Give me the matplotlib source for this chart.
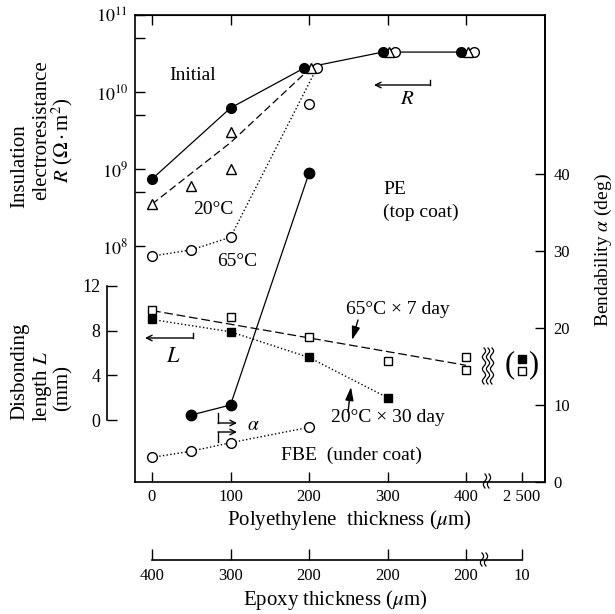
import numpy as np
import matplotlib
matplotlib.use("Agg")
import matplotlib.pyplot as plt
from matplotlib.lines import Line2D
from matplotlib.ticker import FixedLocator, NullFormatter
from matplotlib.transforms import IdentityTransform

plt.rcParams["font.family"] = ["Liberation Serif", "DejaVu Serif"]
plt.rcParams["mathtext.fontset"] = "stix"

# polyethylene thickness (um); 2500 sits past the axis break
pe_ticks = [0, 100, 200, 300, 400, 2500]
pe_labels = ["0", "100", "200", "300", "400", "2 500"]
epoxy_labels = ["400", "300", "200", "200", "200", "10"]

# insulation resistance R (ohm m2)
init_x = [0, 100]
init_R = [7.4e8, 6.2e9]
t20_x = [0, 50, 100, 100]
t20_R = [3.5e8, 6.0e8, 3.0e9, 1.0e9]
t20_line_x = [0, 100, 200]
t20_line_R = [3.5e8, 2.2e9, 2.05e10]
t65_x = [0, 50, 100, 200]
t65_R = [7.4e7, 8.9e7, 1.3e8, 7.0e9]
# the three R series coincide from 200 um on
common_x = [200, 300, 400]
common_R = [2.05e10, 3.3e10, 3.3e10]

# bendability alpha (deg)
pe_alpha_x = [50, 100, 200]
pe_alpha = [8.7, 10.0, 40.1]
fbe_alpha_x = [0, 50, 100, 200]
fbe_alpha = [3.2, 4.0, 5.1, 7.1]

# disbonding length L (mm)
l65_x = [0, 100, 200, 300, 400, 400]
l65 = [9.85, 9.2, 7.4, 5.3, 5.6, 4.5]
l65_fit_x = [0, 400]
l65_fit = [9.8, 4.9]
l20_x = [0, 100, 200, 300]
l20 = [9.0, 7.9, 5.6, 2.0]
l20_2500 = 5.5
l65_2500 = 4.4

W, H = 615, 614
BREAK_POS = 471          # axis position used for 2500 um
SHIFT = {"init": -6, "t20": 2, "t65": 10}   # side-by-side markers in the shared cluster


def xpos(v):
    return v if v <= 400 else BREAK_POS


def fx(x):
    return x / W


def fy(y):
    return 1 - y / H


fig = plt.figure(figsize=(W / 100, H / 100), dpi=100)
left, right, top, bottom = 135, 545, 15, 482
pos = [left / W, 1 - bottom / H, (right - left) / W, (bottom - top) / H]
px_um = (466 - 152) / 400
xlim = ((left - 152) / px_um, (right - 152) / px_um)

ax = fig.add_axes(pos)
ax.set_xlim(*xlim)
ax.set_yscale("log")
ax.set_ylim(10 ** (8 - (bottom - 246) / 77), 1e11)
for s in ax.spines.values():
    s.set_linewidth(1.2)
ax.yaxis.set_major_locator(FixedLocator([1e8, 1e9, 1e10, 1e11]))
ax.yaxis.set_minor_locator(FixedLocator([5e8, 5e9, 5e10]))
ax.yaxis.set_minor_formatter(NullFormatter())
ax.set_yticklabels([r"$10^{8}$", r"$10^{9}$", r"$10^{10}$", r"$10^{11}$"])
ax.tick_params(axis="y", which="both", direction="in", length=7, width=1, labelsize=13, pad=5)
ax.set_xticks([xpos(v) for v in pe_ticks])
ax.set_xticklabels(pe_labels)
ax.tick_params(axis="x", direction="in", length=7, width=1, labelsize=12, pad=5)
top_ax = ax.secondary_xaxis("top")
top_ax.set_xticks(pe_ticks[:5])
top_ax.tick_params(direction="in", length=7, width=1, labeltop=False)

# R curves
ms = dict(markersize=7, markeredgewidth=1, color="black")
ax.plot(init_x + [v + SHIFT["init"] for v in common_x], init_R + common_R, "-", lw=0.9, color="black")
ax.plot(t20_line_x[:-1] + [t20_line_x[-1] + SHIFT["t20"]], t20_line_R, "--", lw=0.9, color="black",
        dashes=(6, 3))
ax.plot(t65_x[:3] + [common_x[0] + SHIFT["t65"]], t65_R[:3] + [common_R[0]], ":", lw=1.0, color="black")
ax.plot(t65_x, t65_R, "o", mfc="white", **ms)
ax.plot([v + SHIFT["t65"] for v in common_x], common_R, "o", mfc="white", **ms)
ax.plot(t20_x, t20_R, "^", mfc="white", **ms)
ax.plot([v + SHIFT["t20"] for v in common_x], common_R, "^", mfc="white", **ms)
ax.plot(init_x, init_R, "o", mfc="black", **ms)
ax.plot([v + SHIFT["init"] for v in common_x], common_R, "o", mfc="black", **ms)

# bendability axis on the right
axA = ax.twinx()
axA.set_ylim(0, (bottom - top) / 7.7)
axA.set_yticks([0, 10, 20, 30, 40])
axA.tick_params(axis="y", direction="in", length=7, width=1, labelsize=12, pad=6)
for k in ["left", "top", "bottom"]:
    axA.spines[k].set_visible(False)
axA.spines["right"].set_linewidth(1.2)
axA.plot(pe_alpha_x, pe_alpha, "o-", lw=0.9, color="black", markersize=7.5, mfc="black")
axA.plot(fbe_alpha_x, fbe_alpha, "o", ls=":", lw=1.0, color="black", markersize=7, mfc="white")

# disbonding length axis, offset bracket on the left
axL = fig.add_axes(pos)
axL.set_xlim(*xlim)
axL.patch.set_visible(False)
axL.set_ylim(-(bottom - 420) / 11.17, 12 + (286 - top) / 11.17)
for k in ["right", "top", "bottom"]:
    axL.spines[k].set_visible(False)
axL.spines["left"].set_position(("outward", 20))
axL.spines["left"].set_bounds(0, 12)
axL.spines["left"].set_linewidth(1.2)
axL.set_yticks([0, 4, 8, 12])
axL.tick_params(axis="y", direction="in", length=7, width=1, labelsize=13, pad=5)
axL.xaxis.set_visible(False)
axL.plot(l65_fit_x, l65_fit, ls=(0, (7, 3)), lw=0.9, color="black")
axL.plot(l20_x, l20, ":", lw=1.0, color="black")
axL.plot(l65_x, l65, "s", mfc="white", mec="black", mew=1, markersize=5.5, ls="none")
axL.plot(l20_x, l20, "s", mfc="black", mec="black", markersize=5.5, ls="none")
axL.plot([xpos(2500)], [l20_2500], "s", mfc="black", mec="black", markersize=5.5)
axL.plot([xpos(2500)], [l65_2500], "s", mfc="white", mec="black", mew=1, markersize=5.5)

# epoxy thickness axis below
axE = fig.add_axes([left / W, fy(560), (right - left) / W, 0.0005])
axE.set_xlim(*xlim)
axE.patch.set_visible(False)
for k in ["left", "right", "top"]:
    axE.spines[k].set_visible(False)
axE.spines["bottom"].set_bounds(0, BREAK_POS)
axE.spines["bottom"].set_linewidth(1.2)
axE.yaxis.set_visible(False)
axE.tick_params(axis="x", direction="in", length=8, width=1, labelsize=12, pad=6)
axE.set_xticks([xpos(v) for v in pe_ticks])
axE.set_xticklabels(epoxy_labels)

# axis titles
fig.text(fx(349), fy(520), r"Polyethylene  thickness ($\mu$m)", ha="center", va="center", fontsize=15)
fig.text(fx(335), fy(600), r"Epoxy thickness ($\mu$m)", ha="center", va="center", fontsize=15)
fig.text(fx(20), fy(166), "Insulation", rotation=90, ha="center", va="center", fontsize=15)
fig.text(fx(42), fy(130), "electroresistance", rotation=90, ha="center", va="center", fontsize=15)
fig.text(fx(62), fy(140), r"$R$ ($\Omega\cdot$m$^2$)", rotation=90, ha="center", va="center", fontsize=15)
fig.text(fx(20), fy(371), "Disbonding", rotation=90, ha="center", va="center", fontsize=15)
fig.text(fx(42), fy(386), r"length $L$", rotation=90, ha="center", va="center", fontsize=15)
fig.text(fx(63), fy(388), "(mm)", rotation=90, ha="center", va="center", fontsize=15)
fig.text(fx(603), fy(250), r"Bendability $\alpha$ (deg)", rotation=90, ha="center", va="center", fontsize=14)

# in-plot labels
fig.text(fx(193), fy(75), "Initial", ha="center", va="center", fontsize=14)
fig.text(fx(213), fy(210), "20°C", ha="center", va="center", fontsize=14)
fig.text(fx(237), fy(262), "65°C", ha="center", va="center", fontsize=14)
fig.text(fx(383), fy(190), "PE", ha="left", va="center", fontsize=14)
fig.text(fx(383), fy(212), "(top coat)", ha="left", va="center", fontsize=14)
fig.text(fx(398), fy(310), "65°C × 7 day", ha="center", va="center", fontsize=14)
fig.text(fx(388), fy(417), "20°C × 30 day", ha="center", va="center", fontsize=14)
fig.text(fx(351), fy(455), "FBE  (under coat)", ha="center", va="center", fontsize=14)
fig.text(fx(407), fy(100), r"$R$", ha="center", va="center", fontsize=15)
fig.text(fx(173), fy(358), r"$L$", ha="center", va="center", fontsize=16)
fig.text(fx(253), fy(425), r"$\alpha$", ha="center", va="center", fontsize=14)
fig.text(fx(510), fy(365), "(", ha="center", va="center", fontsize=22)
fig.text(fx(533), fy(365), ")", ha="center", va="center", fontsize=22)

ident = IdentityTransform()


def seg(xs, ys, lw=1.0):
    fig.add_artist(Line2D(xs, [H - y for y in ys], transform=ident, color="black", lw=lw))


def arrow(x0, y0, x1, y1, style="->", scale=10):
    ax.annotate("", xy=(x1, H - y1), xycoords="figure pixels", xytext=(x0, H - y0),
                textcoords="figure pixels",
                arrowprops=dict(arrowstyle=style, color="black", lw=1.0, mutation_scale=scale,
                                shrinkA=0, shrinkB=0))


# R and L pointers
seg([430, 430], [80, 85])
arrow(430, 85, 374, 85)
seg([193, 193], [333, 338])
arrow(193, 338, 145, 338)
# alpha pointers
seg([218, 218], [413, 423])
arrow(218, 423, 237, 423)
seg([218, 218], [442, 432])
arrow(218, 432, 237, 432)
# condition pointers
arrow(358, 320, 352, 340, style="-|>,head_width=0.25,head_length=0.8", scale=10)
arrow(348, 412, 351, 387, style="-|>,head_width=0.25,head_length=0.8", scale=10)


def wiggle(x, y0, y1, amp=1.6, waves=1.5, lw=0.9):
    t = np.linspace(0, 1, 60)
    xs = x + amp * np.sin(2 * np.pi * waves * t)
    ys = y0 + (y1 - y0) * t
    seg(xs, ys, lw=lw)


# axis breaks
for bx in (485, 489):
    wiggle(bx, 474, 488, waves=1.0)
for bx in (482, 486):
    wiggle(bx, 553, 566, waves=1.0)
for bx in (484, 488, 492):
    wiggle(bx, 348, 384, waves=3.0)

fig.savefig("out.png", dpi=100)
